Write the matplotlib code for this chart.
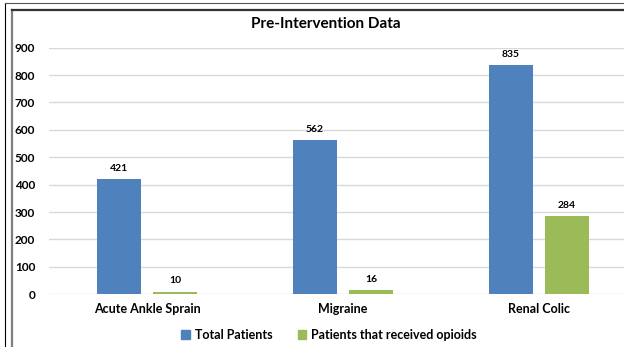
import matplotlib
matplotlib.use("Agg")
import matplotlib.pyplot as plt
import numpy as np
from matplotlib.lines import Line2D
from matplotlib.patches import Patch

categories = ["Acute Ankle Sprain", "Migraine", "Renal Colic"]
total_patients = [421, 562, 835]
opioid_patients = [10, 16, 284]
series_names = ["Total Patients", "Patients that received opioids"]
yticks = [0, 100, 200, 300, 400, 500, 600, 700, 800, 900]

BLUE = "#4F81BD"
GREEN = "#9BBB59"
W, H = 624, 347

plt.rcParams["font.family"] = ["Lato", "DejaVu Sans"]

fig = plt.figure(figsize=(W / 100, H / 100), dpi=100)
fig.patch.set_facecolor("white")


def px(x0, y0, x1, y1):
    # pixel box (top-left origin) -> figure fraction rect
    return [x0 / W, 1 - y1 / H, (x1 - x0) / W, (y1 - y0) / H]


ax = fig.add_axes(px(49, 47.6, 637, 294.3))
x = np.arange(len(categories))
bw = 0.22
off = 0.143
b1 = ax.bar(x - off, total_patients, bw, color=BLUE, zorder=3)
b2 = ax.bar(x + off, opioid_patients, bw, color=GREEN, zorder=3)

for bars, vals in ((b1, total_patients), (b2, opioid_patients)):
    for rect, v in zip(bars, vals):
        ax.annotate(str(v), (rect.get_x() + rect.get_width() / 2, v),
                    xytext=(0, 4.5), textcoords="offset points",
                    ha="center", va="bottom", fontsize=7.5, fontweight="bold")

ax.set_xlim(-0.5, 2.5)
ax.set_ylim(0, 900)
ax.set_yticks(yticks)
ax.set_xticks(x)
ax.set_xticklabels(categories, fontsize=9, fontweight="bold")
for lab in ax.get_yticklabels():
    lab.set_fontsize(8.5)
    lab.set_fontweight("bold")
ax.tick_params(axis="both", length=0)
ax.tick_params(axis="y", pad=10)
ax.tick_params(axis="x", pad=6)
ax.grid(axis="y", color="#d9d9d9", linewidth=1, zorder=0)
for s in ax.spines.values():
    s.set_visible(False)

fig.text(326 / W, 1 - 24 / H, "Pre-Intervention Data", ha="center", va="center",
         fontsize=11, fontweight="bold")

handles = [Patch(color=BLUE), Patch(color=GREEN)]
fig.legend(handles, series_names, loc="center", bbox_to_anchor=(329 / W, 1 - 335 / H),
           ncol=2, frameon=False, handlelength=0.7, handleheight=0.7,
           handletextpad=0.4, columnspacing=2.0, prop={"weight": "bold", "size": 9})

# chart frame
def fline(xs, ys, **kw):
    fig.add_artist(Line2D([v / W for v in xs], [1 - v / H for v in ys],
                          transform=fig.transFigure, **kw))

fline([4.5, 4.5], [3, H], color="black", linewidth=0.8)
fline([4.5, W], [3, 3], color="#555555", linewidth=0.8)
fline([11.5, 11.5], [9.5, H], color="#7f7f7f", linewidth=1.6)
fline([11.5, W], [9.5, 9.5], color="#333333", linewidth=1.6)

fig.savefig("out.png", dpi=100)
